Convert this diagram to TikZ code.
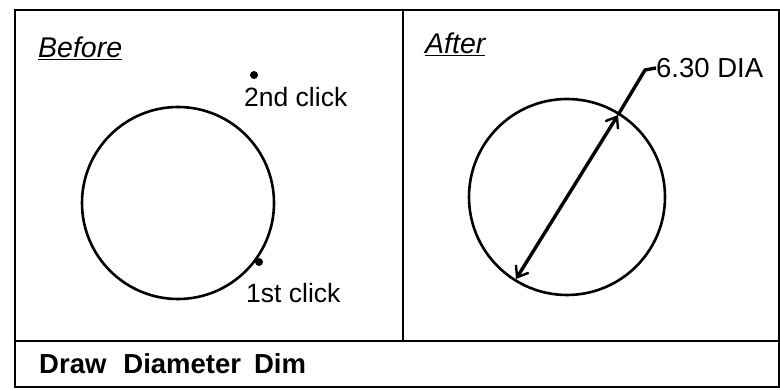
\documentclass[tikz,border=0pt]{standalone}
\usepackage{fontspec}
\setmainfont{Liberation Sans}
\usetikzlibrary{arrows.meta}
\tikzset{
  frameline/.style={line width=2.6pt, line cap=round},
  ring/.style={circle, draw, line width=2.6pt, inner sep=0pt},
  clickdot/.style={circle, fill, inner sep=0pt, minimum size=8pt},
  lbl/.style={font=\fontsize{26.5}{30}\selectfont, inner sep=0pt},
  heading/.style={font=\fontsize{28.5}{30}\selectfont\itshape, inner sep=0pt, anchor=base west},
  dimline/.style={line width=3.4pt, {Straight Barb[length=10pt,width=15pt,line width=2.4pt]}-{Straight Barb[length=10pt,width=15pt,line width=2.4pt]}},
  leader/.style={line width=3.4pt}
}
\begin{document}
\begin{tikzpicture}[x=1pt,y=-1pt]
\useasboundingbox (0,0) rectangle (780,390);
% frame
\draw[frameline] (15,10) rectangle (779,387);
\draw[frameline] (403,10) -- (403,341);
\draw[frameline] (15,341) -- (779,341);
% Before panel
\node[heading] (before) at (38,58) {\underline{Before}};
\node[ring, minimum size=192pt] (c1) at (178,203) {};
\node[clickdot] (d2) at (254,75) {};
\node[lbl, anchor=west] (t2) at (244,97) {2nd click};
\node[clickdot] (d1) at (259,262) {};
\node[lbl, anchor=west] (t1) at (246,293) {1st click};
% After panel
\node[heading] (after) at (425,54) {\underline{After}};
\node[ring, minimum size=196pt] (c2) at (567,197) {};
\coordinate (tipA) at (516,279);
\coordinate (tipB) at (618,115);
\coordinate (bend) at (645,70);
\node[lbl, font=\fontsize{27.5}{30}\selectfont, anchor=west] (dim) at (656,68) {6.30 DIA};
\draw[dimline] (tipA) -- (tipB);
\draw[leader, line join=round] (tipB) -- (bend) -- (dim.west);
% caption
\node[lbl, font=\fontsize{27.5}{30}\selectfont\bfseries, anchor=west] (cap) at (39,364) {Draw\hspace{17pt}Diameter\hspace{13pt}Dim};
\end{tikzpicture}
\end{document}
